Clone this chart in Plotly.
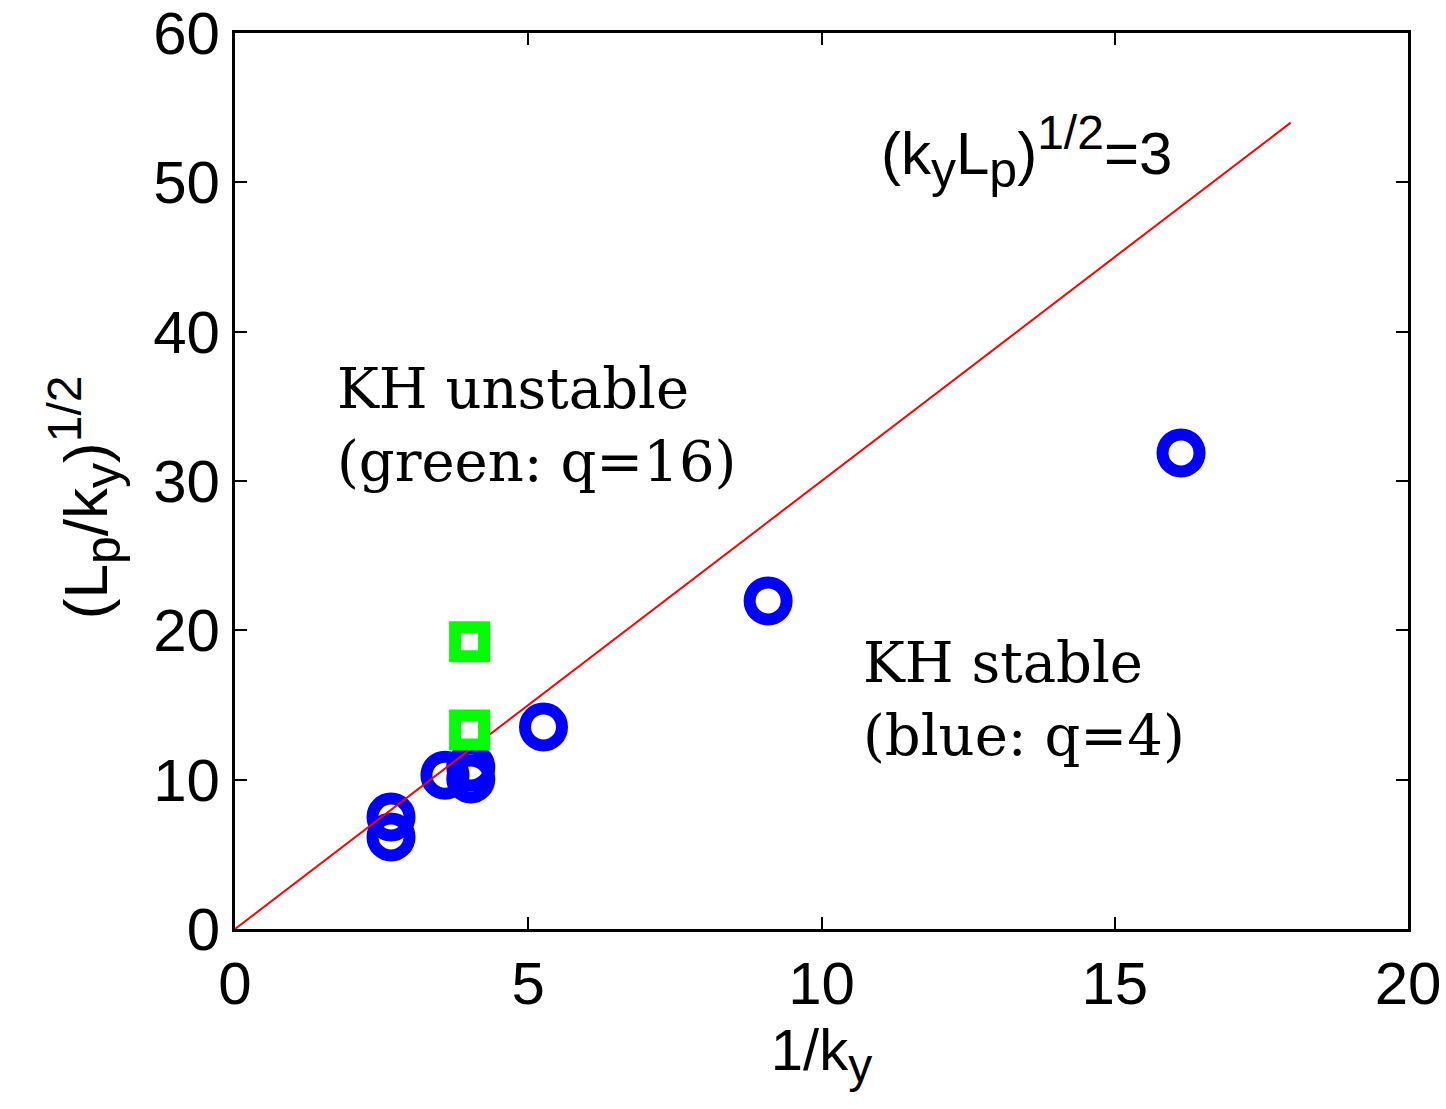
import plotly.graph_objects as go

# Data
blue_x = [2.66, 2.66, 3.58, 4.02, 4.02, 5.26, 9.09, 16.13]
blue_y = [6.16, 7.50, 10.30, 10.85, 10.05, 13.53, 21.97, 31.88]
green_x = [4.0, 4.0]
green_y = [13.33, 19.24]
line_x = [0, 18]
line_slope = 3
line_y = [line_slope * v for v in line_x]

x_ticks = [0, 5, 10, 15, 20]
y_ticks = [0, 10, 20, 30, 40, 50, 60]

SANS = "Liberation Sans, Arial, Helvetica, sans-serif"
SERIF = "DejaVu Serif, serif"


def sub(t, px):
    return '<sub><span style="font-size:%dpx">%s</span></sub>' % (px, t)


def sup(t, px):
    return '<sup><span style="font-size:%dpx">%s</span></sup>' % (px, t)


fig = go.Figure()
fig.add_trace(go.Scatter(
    x=blue_x, y=blue_y, mode="markers",
    marker=dict(symbol="circle-open", size=37, color="#0000ff",
                line=dict(width=12, color="#0000ff")),
    showlegend=False, hoverinfo="skip"))
fig.add_trace(go.Scatter(
    x=line_x, y=line_y, mode="lines",
    line=dict(color="#ff0000", width=2),
    showlegend=False, hoverinfo="skip"))
fig.add_trace(go.Scatter(
    x=green_x, y=green_y, mode="markers",
    marker=dict(symbol="square-open", size=29, color="#00ff00",
                line=dict(width=12, color="#00ff00")),
    showlegend=False, hoverinfo="skip"))

fig.add_annotation(x=1.7, y=33.75, xref="x", yref="y", xanchor="left", yanchor="middle",
                   text="KH unstable<br>(green: q=16)", showarrow=False, align="left",
                   font=dict(family=SERIF, size=56, color="black"))
fig.add_annotation(x=10.67, y=15.4, xref="x", yref="y", xanchor="left", yanchor="middle",
                   text="KH stable<br>(blue: q=4)", showarrow=False, align="left",
                   font=dict(family=SERIF, size=56, color="black"))
fig.add_annotation(x=10.98, y=52.0, xref="x", yref="y", xanchor="left", yanchor="middle",
                   text="(k" + sub("y", 50) + "L" + sub("p", 50) + ")" + sup("1/2", 48) + "=3",
                   showarrow=False, align="left",
                   font=dict(family=SANS, size=60, color="black"))

# y-axis title placed as a rotated annotation for exact positioning
fig.add_annotation(x=0, y=0.482, xref="paper", yref="paper", xanchor="center", yanchor="middle",
                   xshift=-151, textangle=-90, showarrow=False,
                   text="(L" + sub("p", 50) + "/k" + sub("y", 50) + ")" + sup("1/2", 48),
                   font=dict(family=SANS, size=62, color="black"))

axis_common = dict(
    showline=True, linecolor="black", linewidth=3, mirror="ticks",
    ticks="inside", ticklen=12, tickwidth=2, tickcolor="black",
    showgrid=False, zeroline=False, automargin=False,
    tickfont=dict(family=SANS, size=60, color="black"),
)
fig.update_xaxes(range=[0, 20], tickvals=x_ticks, ticktext=[str(v) for v in x_ticks],
                 title=dict(text="1/k" + sub("y", 48), font=dict(family=SANS, size=58, color="black"), standoff=14),
                 **axis_common)
fig.update_yaxes(range=[0, 60], tickvals=y_ticks, ticktext=[str(v) for v in y_ticks],
                 **axis_common)

fig.update_layout(
    width=1446, height=1109,
    margin=dict(l=235, r=38, t=33, b=180),
    paper_bgcolor="white", plot_bgcolor="white",
)

fig.write_html("out.html")
